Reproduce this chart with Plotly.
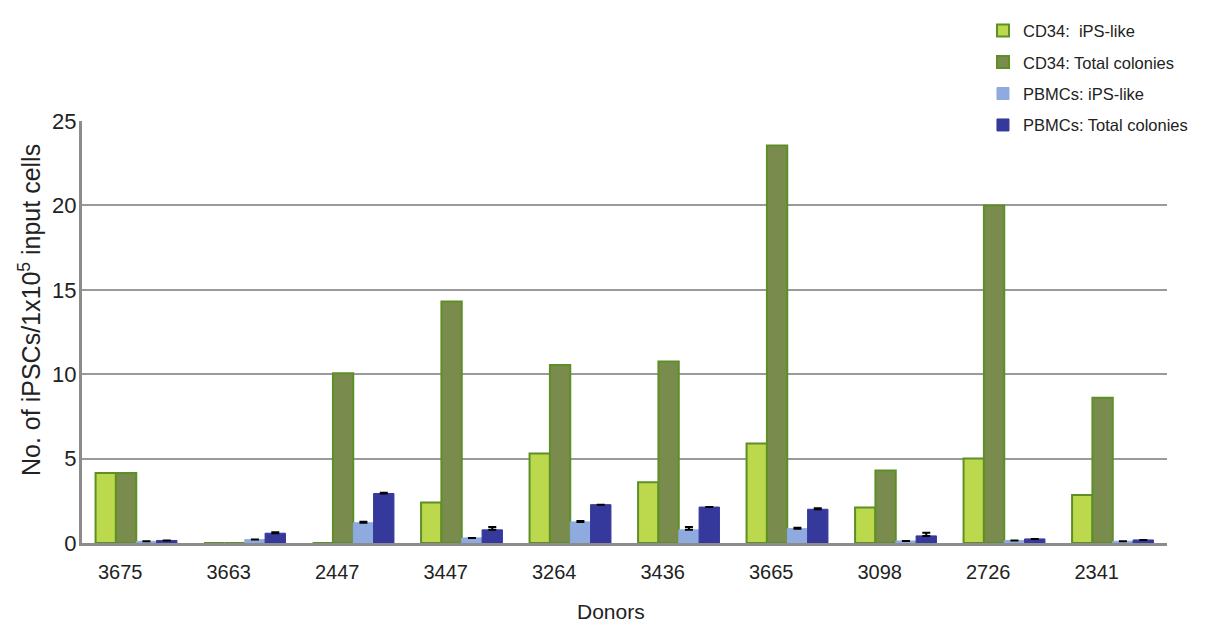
import plotly.graph_objects as go

donors = ["3675", "3663", "2447", "3447", "3264", "3436", "3665", "3098", "2726", "2341"]
cd34_ips = [4.15, 0, 0, 2.4, 5.3, 3.6, 5.9, 2.1, 5.0, 2.85]
cd34_total = [4.15, 0, 10.05, 14.3, 10.55, 10.75, 23.55, 4.3, 20.0, 8.6]
pbmc_ips = [0.1, 0.2, 1.2, 0.3, 1.25, 0.78, 0.85, 0.12, 0.15, 0.1]
pbmc_total = [0.15, 0.58, 2.93, 0.78, 2.27, 2.13, 2.0, 0.42, 0.24, 0.18]
pbmc_ips_err = [0.0, 0.0, 0.06, 0.0, 0.05, 0.17, 0.05, 0.0, 0.0, 0.0]
pbmc_total_err = [0.0, 0.06, 0.05, 0.17, 0.0, 0.0, 0.06, 0.18, 0.0, 0.0]

names = ["CD34:\u00a0 iPS-like", "CD34: Total colonies", "PBMCs: iPS-like", "PBMCs: Total colonies"]
fills = ["#bcd84c", "#7a8b4e", "#8eaadf", "#35399b"]
lines = ["#5e8f26", "#5e8f26", "#8eaadf", "#35399b"]

fig = go.Figure()
series = [cd34_ips, cd34_total, pbmc_ips, pbmc_total]
errs = [None, None, pbmc_ips_err, pbmc_total_err]
for i, (vals, nm) in enumerate(zip(series, names)):
    kw = {}
    if errs[i] is not None:
        kw["error_y"] = dict(type="data", array=errs[i], arrayminus=[0] * len(donors),
                             symmetric=False, color="black", thickness=2, width=4)
    fig.add_trace(go.Bar(
        x=donors, y=vals, name=nm, legendgroup=f"g{i}",
        marker=dict(color=fills[i], line=dict(color=lines[i], width=2 if i < 2 else 1)),
        **kw))

fig.update_layout(
    width=1211, height=624,
    margin=dict(l=82, r=44, t=121, b=81),
    paper_bgcolor="white", plot_bgcolor="white",
    barmode="group", bargap=0.25, bargroupgap=0,
    font=dict(family="Liberation Sans, Arial, sans-serif", color="#222", size=18),
    showlegend=True,
    legend=dict(x=0.8304, y=1.255, xanchor="left", yanchor="top",
                font=dict(size=16.5, color="#222"), tracegroupgap=7,
                bgcolor="rgba(0,0,0,0)"),
    annotations=[
        dict(text="No. of iPSCs/1x10<sup>5</sup> input cells", textangle=-90,
             xref="paper", yref="paper", x=-0.048, y=0.552,
             xanchor="center", yanchor="middle", showarrow=False,
             font=dict(size=25, color="#222")),
        dict(text="Donors", xref="paper", yref="paper", x=0.488, y=-0.1635,
             xanchor="center", yanchor="middle", showarrow=False,
             font=dict(size=21, color="#222")),
    ],
)
fig.update_xaxes(
    type="category", showline=True, linecolor="#8c8c8c", linewidth=3,
    ticks="", ticklabelstandoff=9, ticklabelshift=-16,
    tickfont=dict(size=20),
    automargin=False,
)
fig.update_yaxes(
    range=[0, 25], tickvals=[0, 5, 10, 15, 20, 25],
    showline=True, linecolor="#8c8c8c", linewidth=3,
    showgrid=True, gridcolor="#9a9a9a", gridwidth=2,
    zeroline=False, ticks="", ticklabelstandoff=-2,
    tickfont=dict(size=22),
    automargin=False,
)
fig.write_html(
    "out.html",
    config={"displayModeBar": False},
    post_script="document.body.style.margin='0';document.body.style.overflow='hidden';",
)
